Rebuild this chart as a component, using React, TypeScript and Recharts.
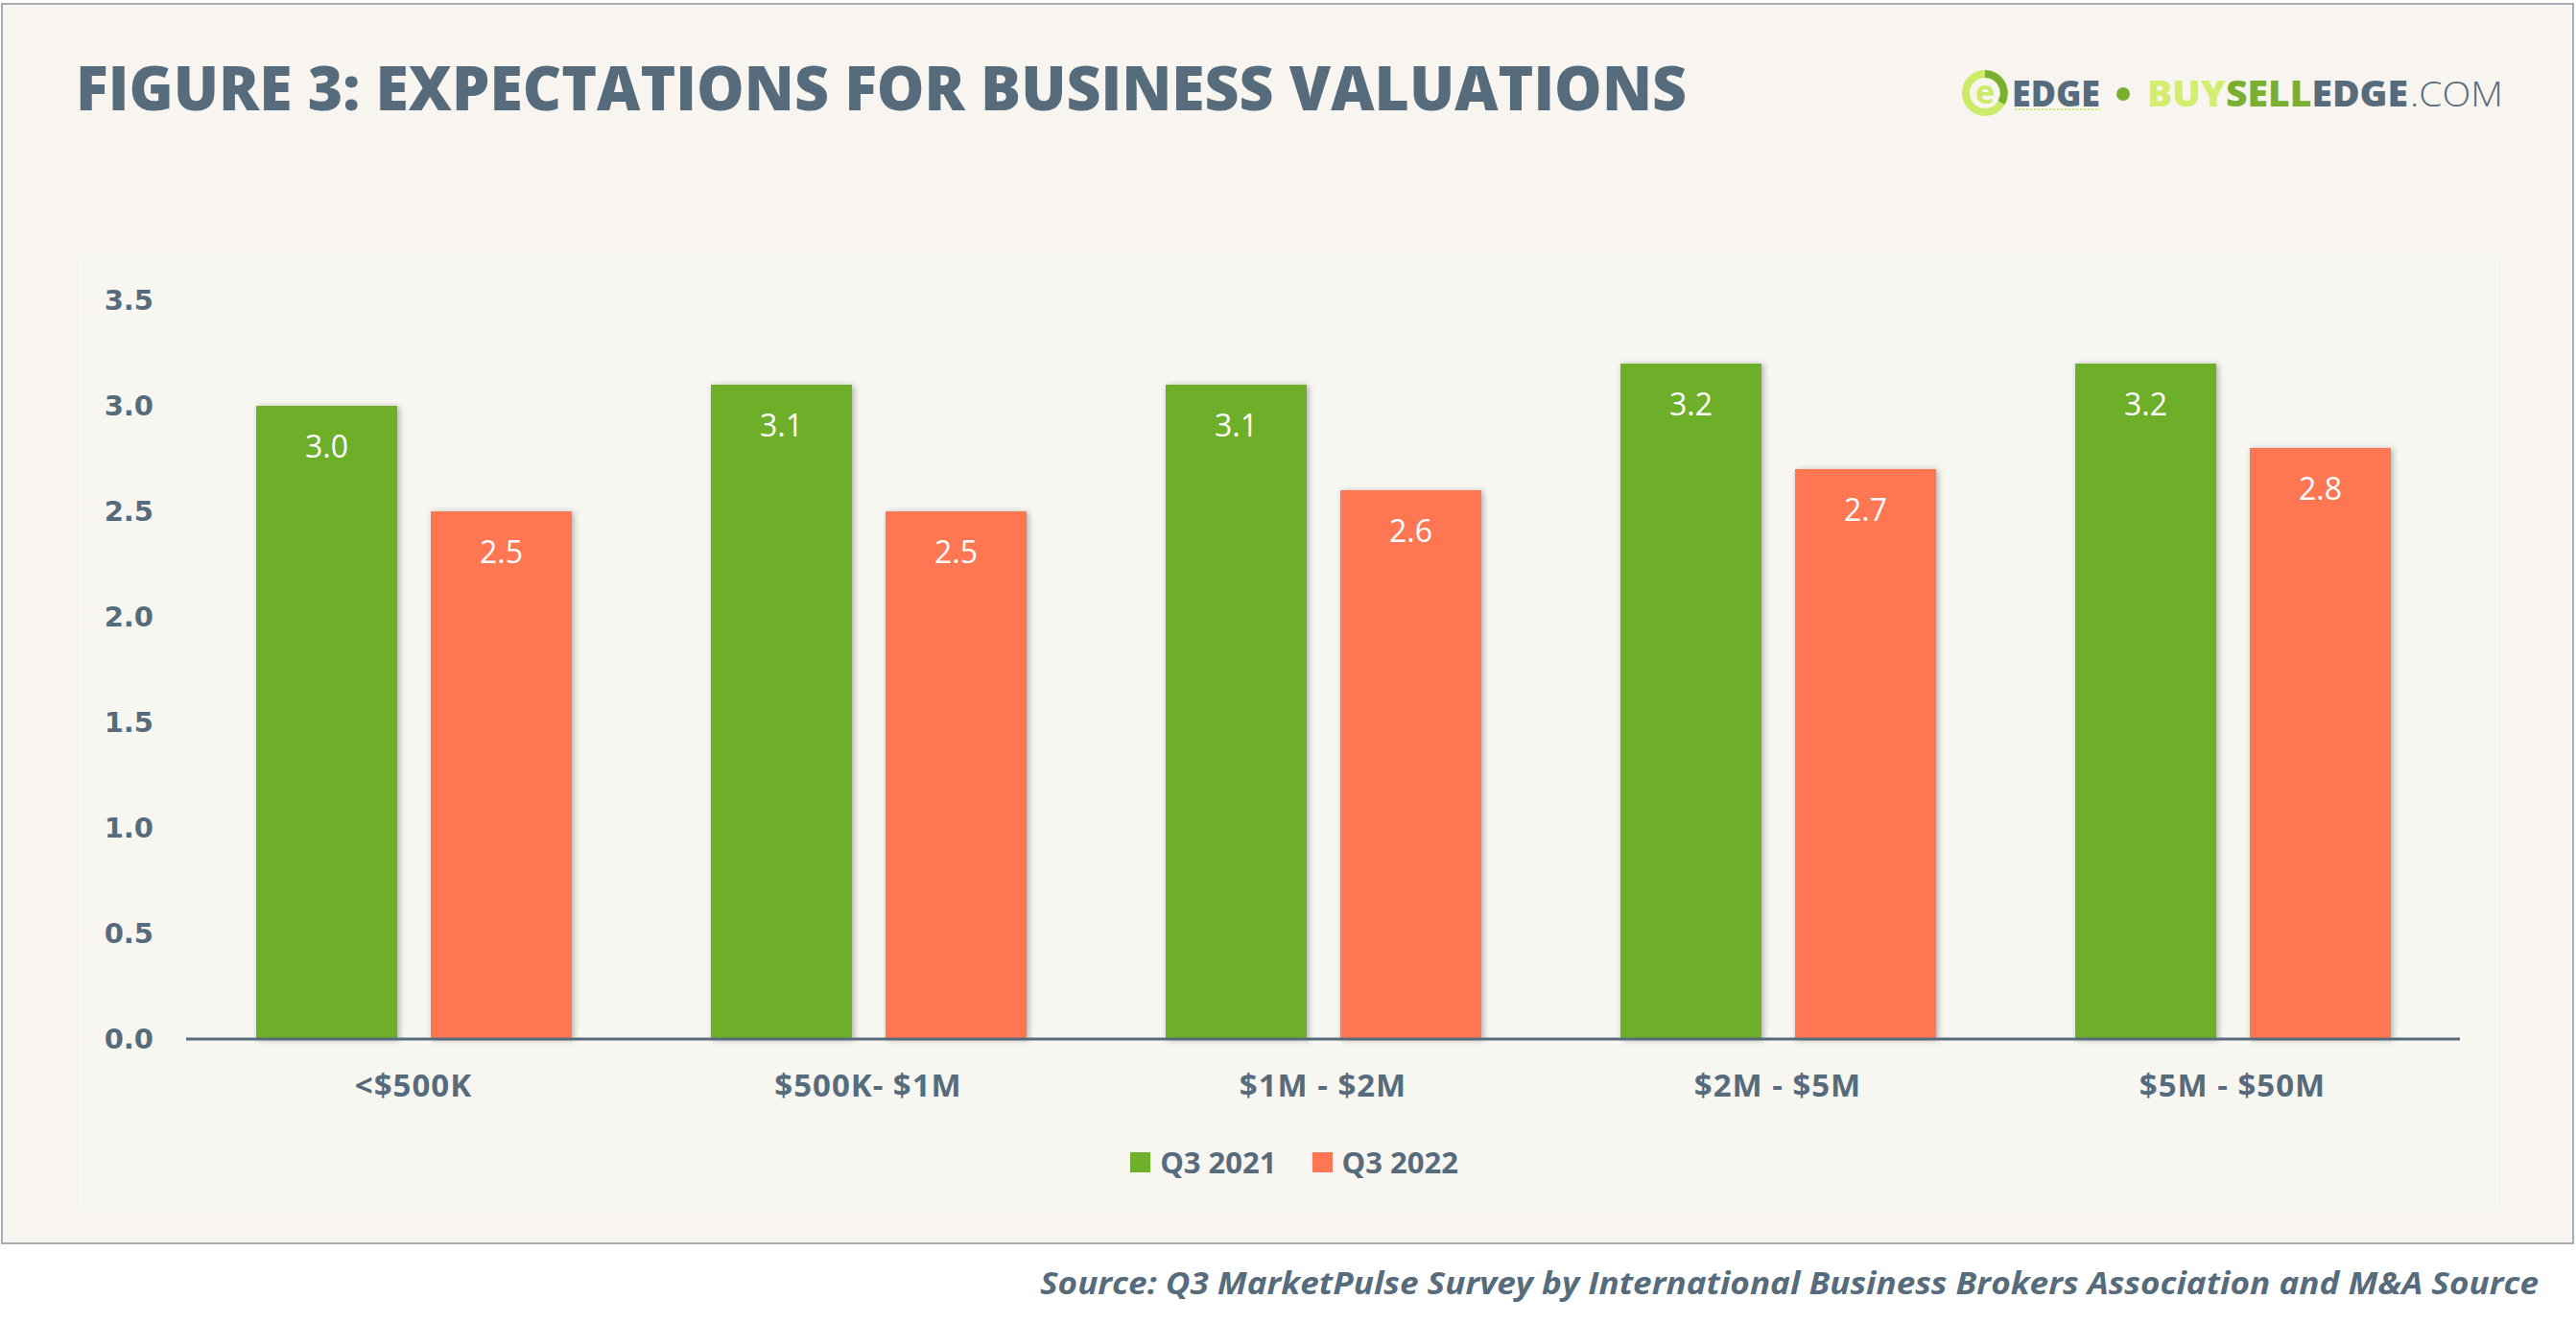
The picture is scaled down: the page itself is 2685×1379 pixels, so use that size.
import { Bar, BarChart, LabelList, Legend, XAxis, YAxis } from "recharts"

const categories = ["<$500K", "$500K- $1M", "$1M - $2M", "$2M - $5M", "$5M - $50M"]
const q3_2021 = [3.0, 3.1, 3.1, 3.2, 3.2]
const q3_2022 = [2.5, 2.5, 2.6, 2.7, 2.8]
const yTicks = [0, 0.5, 1, 1.5, 2, 2.5, 3, 3.5]
const seriesNames = ["Q3 2021", "Q3 2022"]

const chartData = categories.map((name, i) => ({ name, q21: q3_2021[i], q22: q3_2022[i] }))

const SLATE = "#566B7B"
const GREEN = "#6EAF2C"
const ORANGE = "#FF7652"
const CREAM = "#F8F5F0"

// rect with a soft drop shadow, like the office-chart look
function ShadowBar(props: any) {
  const { x, y, width, height, fill } = props
  if (!height || height <= 0) return null
  return <rect x={x} y={y} width={width} height={height} fill={fill} filter="url(#barShadow)" />
}

function renderLegend(props: any) {
  const { payload = [] } = props
  return (
    <div style={{ display: "flex", justifyContent: "center", alignItems: "center", height: 40, gap: 37 }}>
      {payload.map((p: any) => (
        <div key={p.value} style={{ display: "flex", alignItems: "center" }}>
          <span style={{ width: 21, height: 21, background: p.color, marginRight: 10, display: "inline-block" }} />
          <span style={{ fontFamily: "'Open Sans'", fontWeight: 700, fontSize: 31, color: SLATE }}>{p.value}</span>
        </div>
      ))}
    </div>
  )
}

function Logo() {
  return (
    <svg width={620} height={80} style={{ position: "absolute", left: 2020, top: 56 }}>
      {/* ring icon */}
      <circle cx={49} cy={41} r={20} fill="none" stroke="#CDEB6A" strokeWidth={8} />
      <path d="M 49 21 A 20 20 0 0 1 66 51" fill="none" stroke="#7AAF2F" strokeWidth={8} />
      <text x={49} y={52} textAnchor="middle" fontFamily="'Open Sans'" fontWeight={700} fontSize={34} fill="#CDEB6A">e</text>
      <text x={77} y={55} fontFamily="'Open Sans'" fontWeight={800} fontSize={37} fill={SLATE} textLength={92} lengthAdjust="spacingAndGlyphs">EDGE</text>
      <line x1={80} y1={58} x2={169} y2={58} stroke="#CDEB6A" strokeWidth={2} strokeDasharray="2 2" />
      <circle cx={193} cy={42} r={7} fill="#7AAF2F" />
      <text x={218} y={55} fontFamily="'Open Sans'" fontWeight={800} fontSize={37} textLength={272} lengthAdjust="spacingAndGlyphs">
        <tspan fill="#D3EE6C">BUY</tspan>
        <tspan fill="#7AAF2F">SELL</tspan>
        <tspan fill={SLATE}>EDGE</tspan>
      </text>
      <text x={492} y={55} fontFamily="'Open Sans'" fontWeight={300} fontSize={37} fill={SLATE} textLength={97} lengthAdjust="spacingAndGlyphs">.COM</text>
    </svg>
  )
}

export default function App() {
  return (
    <div style={{ position: "absolute", left: 0, top: 0, width: 2685, height: 1379, background: "#fff" }}>
      <svg width={0} height={0} style={{ position: "absolute" }}>
        <defs>
          <filter id="barShadow" x="-20%" y="-10%" width="140%" height="120%">
            <feDropShadow dx={2} dy={1} stdDeviation={3} floodColor="#000" floodOpacity={0.3} />
          </filter>
        </defs>
      </svg>

      {/* outer frame */}
      <div
        style={{
          position: "absolute",
          left: 1,
          top: 3,
          width: 2678,
          height: 1290,
          border: "2px solid #A5AEB4",
          background: CREAM,
        }}
      />
      {/* inner panel */}
      <div
        style={{
          position: "absolute",
          left: 83,
          top: 266,
          width: 2518,
          height: 994,
          border: "1px solid #FCFBF8",
          background: "#F8F6F1",
        }}
      />

      <svg width={1800} height={140} style={{ position: "absolute", left: 0, top: 0 }}>
        <text
          x={79}
          y={115}
          fontFamily="'Open Sans'"
          fontWeight={800}
          fontSize={64}
          fill={SLATE}
          textLength={1679}
          lengthAdjust="spacingAndGlyphs"
        >
          FIGURE 3: EXPECTATIONS FOR BUSINESS VALUATIONS
        </text>
      </svg>

      <Logo />

      <div style={{ position: "absolute", left: 83, top: 266 }}>
        <BarChart
          width={2520}
          height={996}
          data={chartData}
          margin={{ top: 47, right: 39, left: 0, bottom: 31 }}
          barCategoryGap={73}
          barGap={35}
        >
          <XAxis
            dataKey="name"
            interval={0}
            tickLine={false}
            axisLine={{ stroke: SLATE, strokeWidth: 3 }}
            tickMargin={31}
            height={108}
            tick={{ fill: SLATE, fontSize: 33, fontWeight: 700, fontFamily: "'Open Sans'", letterSpacing: 1 }}
          />
          <YAxis
            domain={[0, 3.5]}
            ticks={yTicks}
            axisLine={false}
            tickLine={false}
            width={111}
            tickMargin={28}
            tickFormatter={(v: number) => v.toFixed(1)}
            tick={{ fill: SLATE, fontSize: 29, fontWeight: 700, fontFamily: "'DejaVu Sans'" }}
          />
          <Legend
            content={renderLegend}
            wrapperStyle={{ left: 0, width: 2532, bottom: 31 }}
          />
          <Bar dataKey="q21" name={seriesNames[0]} fill={GREEN} shape={ShadowBar} isAnimationActive={false}>
            <LabelList
              dataKey="q21"
              position="insideTop"
              offset={31}
              fill="#fff"
              fontSize={32}
              fontFamily="'Open Sans'"
              formatter={(v: any) => Number(v).toFixed(1)}
            />
          </Bar>
          <Bar dataKey="q22" name={seriesNames[1]} fill={ORANGE} shape={ShadowBar} isAnimationActive={false}>
            <LabelList
              dataKey="q22"
              position="insideTop"
              offset={31}
              fill="#fff"
              fontSize={32}
              fontFamily="'Open Sans'"
              formatter={(v: any) => Number(v).toFixed(1)}
            />
          </Bar>
        </BarChart>
      </div>

      <svg width={2685} height={80} style={{ position: "absolute", left: 0, top: 1300 }}>
        <text
          x={1084}
          y={49}
          fontFamily="'Open Sans'"
          fontWeight={700}
          fontStyle="italic"
          fontSize={33}
          fill={SLATE}
          textLength={1562}
          lengthAdjust="spacingAndGlyphs"
        >
          Source: Q3 MarketPulse Survey by International Business Brokers Association and M&amp;A Source
        </text>
      </svg>
    </div>
  )
}
